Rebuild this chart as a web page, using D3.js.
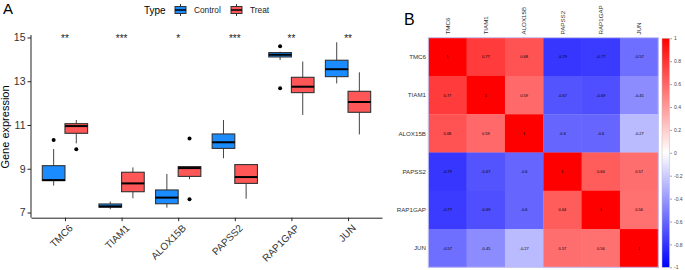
<!DOCTYPE html>
<html>
<head>
<meta charset="utf-8">
<script src="https://cdn.jsdelivr.net/npm/d3@7"></script>
<style>
  body { margin: 0; background: #fff; }
  text { font-family: "Liberation Sans", Arial, sans-serif; }
</style>
</head>
<body>
<script>
// panel A data: [lower whisker, q1, median, q3, upper whisker]
const genes = ["TMC6", "TIAM1", "ALOX15B", "PAPSS2", "RAP1GAP", "JUN"];
const groups = ["Control", "Treat"];
const stars = ["**", "***", "*", "***", "**", "**"];
const controlStats = [
  [8.23, 8.46, 8.48, 9.14, 9.9],
  [7.15, 7.24, 7.28, 7.39, 7.5],
  [7.22, 7.4, 7.68, 8.03, 8.76],
  [9.48, 9.93, 10.21, 10.59, 11.23],
  [13.97, 14.11, 14.21, 14.31, 14.35],
  [12.9, 13.21, 13.55, 13.96, 14.78]
];
const treatStats = [
  [10.16, 10.62, 10.95, 11.06, 11.23],
  [7.65, 7.95, 8.33, 8.84, 9.06],
  [8.52, 8.65, 9.03, 9.1, 9.1],
  [7.63, 8.33, 8.62, 9.19, 9.19],
  [11.46, 12.48, 12.75, 13.18, 13.9],
  [10.57, 11.58, 12.05, 12.54, 13.41]
];
const controlOutliers = [[10.31], [], [], [], [14.6, 12.68], []];
const treatOutliers = [[9.89], [], [10.38, 7.6], [], [], []];
const yTicks = [7, 9, 11, 13, 15];

// panel B data: correlation matrix
const corrGenes = ["TMC6", "TIAM1", "ALOX15B", "PAPSS2", "RAP1GAP", "JUN"];
const corrValues = [
  [1, 0.77, 0.68, -0.79, -0.77, -0.57],
  [0.77, 1, 0.59, -0.67, -0.69, -0.45],
  [0.68, 0.59, 1, -0.6, -0.6, -0.27],
  [-0.79, -0.67, -0.6, 1, 0.64, 0.57],
  [-0.77, -0.69, -0.6, 0.64, 1, 0.56],
  [-0.57, -0.45, -0.27, 0.57, 0.56, 1]
];
const legendTicks = [1, 0.8, 0.6, 0.4, 0.2, 0, -0.2, -0.4, -0.6, -0.8, -1];

const fills = { Control: "#1a8cff", Treat: "#ff5757" };

const svg = d3.select("body").append("svg")
    .attr("width", 685)
    .attr("height", 270);

// ---------- panel A ----------
const x = d3.scalePoint().domain(genes).range([31, 382]).padding(0.6);
const y = d3.scaleLinear().domain([6.762, 15.114]).range([217.7, 35]);
const dodge = d3.scaleBand().domain(groups).range([-0.4 * x.step(), 0.4 * x.step()]);

svg.append("text").attr("x", 3).attr("y", 14).attr("font-size", 15).text("A");

// y axis
const yAxis = svg.append("g")
    .attr("transform", "translate(31,0)")
    .call(d3.axisLeft(y).tickValues(yTicks).tickSize(3.5).tickPadding(2));
yAxis.select(".domain").attr("stroke", "#222").attr("d", "M0,35V217.7");
yAxis.selectAll(".tick line").attr("stroke", "#222");
yAxis.selectAll(".tick text").attr("font-size", 10.5).attr("fill", "#333")
    .style("font-family", "Liberation Sans, Arial, sans-serif");

// x axis
const xAxis = svg.append("g")
    .attr("transform", "translate(0,217.7)")
    .call(d3.axisBottom(x).tickSize(3.5).tickSizeOuter(0));
xAxis.select(".domain").attr("stroke", "#222");
xAxis.selectAll(".tick line").attr("stroke", "#222");
xAxis.selectAll(".tick text")
    .attr("font-size", 10).attr("fill", "#333")
    .style("font-family", "Liberation Sans, Arial, sans-serif")
    .attr("text-anchor", "end")
    .attr("transform", "translate(3,6) rotate(-45)")
    .attr("y", 0).attr("dy", "0.71em");

svg.append("text")
    .attr("transform", "translate(9,127) rotate(-90)")
    .attr("text-anchor", "middle")
    .attr("font-size", 11)
    .text("Gene expression");

// boxes
const boxData = [];
genes.forEach((g, i) => {
  boxData.push({ gene: g, group: "Control", s: controlStats[i], out: controlOutliers[i] });
  boxData.push({ gene: g, group: "Treat", s: treatStats[i], out: treatOutliers[i] });
});
const bw = dodge.bandwidth();

const box = svg.append("g").selectAll("g")
  .data(boxData).join("g")
    .attr("transform", d => "translate(" + (x(d.gene) + dodge(d.group)) + ",0)");

box.append("line")
    .attr("x1", bw / 2).attr("x2", bw / 2)
    .attr("y1", d => y(d.s[0])).attr("y2", d => y(d.s[4]))
    .attr("stroke", "#444").attr("stroke-width", 1);
box.append("rect")
    .attr("x", 0).attr("width", bw)
    .attr("y", d => y(d.s[3]))
    .attr("height", d => y(d.s[1]) - y(d.s[3]))
    .attr("fill", d => fills[d.group])
    .attr("stroke", "#333").attr("stroke-width", 1.1);
box.append("line")
    .attr("x1", 0).attr("x2", bw)
    .attr("y1", d => y(d.s[2])).attr("y2", d => y(d.s[2]))
    .attr("stroke", "#000").attr("stroke-width", 2);
box.selectAll("circle")
  .data(d => d.out).join("circle")
    .attr("cx", bw / 2).attr("cy", v => y(v)).attr("r", 2)
    .attr("fill", "#000");

// significance stars
svg.append("g").selectAll("text")
  .data(genes).join("text")
    .attr("x", d => x(d))
    .attr("y", 42.4)
    .attr("text-anchor", "middle")
    .attr("font-size", 10)
    .attr("fill", "#222")
    .text((d, i) => stars[i]);

// legend
svg.append("text").attr("x", 144).attr("y", 13.8).attr("font-size", 10).text("Type");
const legItems = [{ g: "Control", x: 174, tx: 194 }, { g: "Treat", x: 230, tx: 250 }];
const leg = svg.append("g").selectAll("g").data(legItems).join("g")
    .attr("transform", d => "translate(" + d.x + ",4)");
leg.append("line").attr("x1", 6.5).attr("x2", 6.5).attr("y1", 0).attr("y2", 12)
    .attr("stroke", "#333");
leg.append("rect").attr("x", 1).attr("y", 2.5).attr("width", 11).attr("height", 7)
    .attr("fill", d => fills[d.g]).attr("stroke", "#333").attr("stroke-width", 1);
leg.append("line").attr("x1", 1).attr("x2", 12).attr("y1", 6).attr("y2", 6)
    .attr("stroke", "#000").attr("stroke-width", 1.5);
leg.append("text").attr("x", d => d.tx - d.x).attr("y", 9)
    .attr("font-size", 8.3).attr("fill", "#222").text(d => d.g);

// ---------- panel B ----------
svg.append("text").attr("x", 404).attr("y", 25).attr("font-size", 16).text("B");

const cx = d3.scaleBand().domain(corrGenes).range([428.3, 658.3]);
const cy = d3.scaleBand().domain(corrGenes).range([37.7, 267.3]);
const color = d3.scaleLinear().domain([-1, 0, 1]).range(["#0000ff", "#ffffff", "#ff0000"]);

const cells = [];
corrValues.forEach((row, i) => row.forEach((v, j) => cells.push({ r: corrGenes[i], c: corrGenes[j], v: v })));

const cell = svg.append("g").selectAll("g").data(cells).join("g");
cell.append("rect")
    .attr("x", d => cx(d.c)).attr("y", d => cy(d.r))
    .attr("width", cx.bandwidth() + 0.3).attr("height", cy.bandwidth() + 0.3)
    .attr("fill", d => color(d.v));
cell.append("text")
    .attr("x", d => cx(d.c) + cx.bandwidth() / 2)
    .attr("y", d => cy(d.r) + cy.bandwidth() / 2)
    .attr("dy", "0.35em")
    .attr("text-anchor", "middle")
    .attr("font-size", 4)
    .attr("fill", "#000")
    .text(d => String(d.v));

svg.append("rect")
    .attr("x", 428.3).attr("y", 37.7)
    .attr("width", cx.range()[1] - cx.range()[0])
    .attr("height", cy.range()[1] - cy.range()[0])
    .attr("fill", "none").attr("stroke", "#c4c4f2").attr("stroke-width", 1);

// row labels
svg.append("g").selectAll("text").data(corrGenes).join("text")
    .attr("x", 426)
    .attr("y", d => cy(d) + cy.bandwidth() / 2)
    .attr("dy", "0.35em")
    .attr("text-anchor", "end")
    .attr("font-size", 6.2)
    .attr("fill", "#333")
    .text(d => d);

// column labels
svg.append("g").selectAll("text").data(corrGenes).join("text")
    .attr("transform", d => "translate(" + (cx(d) + cx.bandwidth() / 2) + ",34.5) rotate(-90)")
    .attr("dy", "0.35em")
    .attr("text-anchor", "start")
    .attr("font-size", 6.2)
    .attr("fill", "#333")
    .text(d => d);

// colour bar
const cb = d3.scaleLinear().domain([-1, 1]).range([267.3, 38.3]);
const grad = svg.append("defs").append("linearGradient")
    .attr("id", "cbar").attr("x1", 0).attr("x2", 0).attr("y1", 1).attr("y2", 0);
grad.selectAll("stop").data([-1, 0, 1]).join("stop")
    .attr("offset", d => (d + 1) / 2)
    .attr("stop-color", d => color(d));
svg.append("rect")
    .attr("x", 662).attr("y", cb(1))
    .attr("width", 7.5).attr("height", cb(-1) - cb(1))
    .attr("fill", "url(#cbar)")
    .attr("stroke", "#bbb").attr("stroke-width", 0.5);

const cbAxis = svg.append("g")
    .attr("transform", "translate(670,0)")
    .call(d3.axisRight(cb).tickValues(legendTicks).tickSize(2).tickPadding(2)
      .tickFormat(d => String(d)));
cbAxis.select(".domain").remove();
cbAxis.selectAll(".tick line").attr("stroke", "#666").attr("stroke-width", 0.6);
cbAxis.selectAll(".tick text").attr("font-size", 5).attr("fill", "#444")
    .style("font-family", "Liberation Sans, Arial, sans-serif");
</script>
</body>
</html>
